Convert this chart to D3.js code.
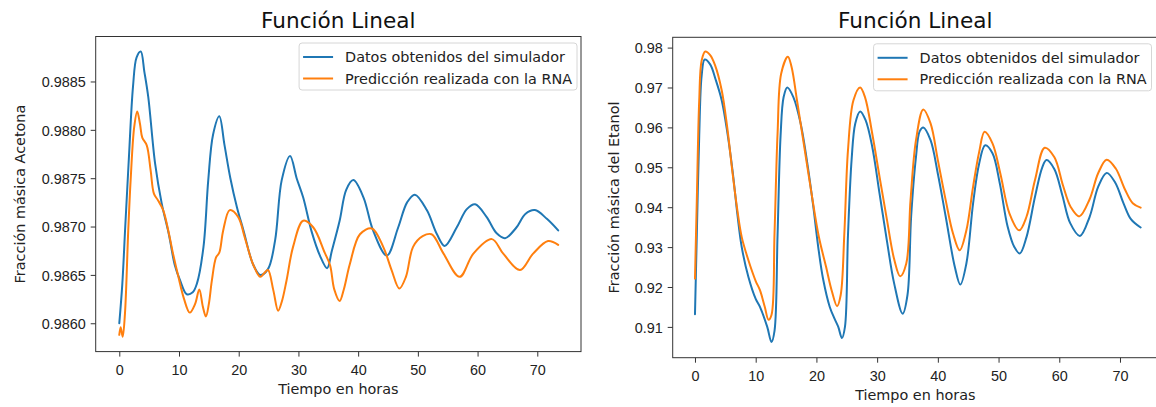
<!DOCTYPE html>
<html lang="es">
<head>
<meta charset="UTF-8">
<title>Función Lineal</title>
<style>
  body { margin: 0; background: #fff; }
  svg { display: block; font-family: "DejaVu Sans", sans-serif; }
  .tick line { stroke: #333; }
  .tick text { fill: #222; font-size: 14.4px; }
  .domain { display: none; }
  .spine { fill: none; stroke: #333; stroke-width: 1; }
  .serie { fill: none; stroke-width: 2; stroke-linejoin: round; stroke-linecap: round; }
</style>
</head>
<body>
<svg width="1156" height="407"></svg>
<script src="https://d3js.org/d3.v7.min.js"></script>
<script>
// ---- data ----
const xTicks = [0, 10, 20, 30, 40, 50, 60, 70];
const acetonaTicks = [0.9860, 0.9865, 0.9870, 0.9875, 0.9880, 0.9885];
const etanolTicks = [0.91, 0.92, 0.93, 0.94, 0.95, 0.96, 0.97, 0.98];
const seriesNames = ["Datos obtenidos del simulador", "Predicción realizada con la RNA"];

// Acetona, simulator
const acetonaSimT = [0, 0.5, 1.0, 1.6, 2.3, 2.9, 3.6, 4.2, 4.85, 6.0, 7.1, 8.3, 9.3, 10.2, 11.3, 12.3, 13.0, 14.1, 14.9, 15.7, 16.75, 17.6, 18.6, 19.7, 20.8, 22.4, 23.6, 24.9, 26.1, 27.2, 28.6, 29.7, 30.8, 32.2, 33.6, 34.8, 35.6, 36.9, 38.0, 39.2, 40.9, 42.5, 44.8, 46.7, 48.2, 49.5, 51.5, 53.2, 54.5, 56.5, 58.2, 59.6, 61.5, 63.2, 64.6, 66.5, 68.0, 69.6, 71.6, 73.5];
const acetonaSimY = [0.98600, 0.98640, 0.98700, 0.98770, 0.98845, 0.98875, 0.98881, 0.98860, 0.98834, 0.98765, 0.98724, 0.98692, 0.98660, 0.98644, 0.98630, 0.98632, 0.98641, 0.98679, 0.98748, 0.98795, 0.98814, 0.98785, 0.98750, 0.98720, 0.98696, 0.98661, 0.98650, 0.98656, 0.98686, 0.98748, 0.98773, 0.98750, 0.98730, 0.98695, 0.98670, 0.98657, 0.98675, 0.98706, 0.98738, 0.98748, 0.98730, 0.98696, 0.98670, 0.98699, 0.98725, 0.98733, 0.98717, 0.98692, 0.98680, 0.98699, 0.98718, 0.98723, 0.98710, 0.98693, 0.98688, 0.98699, 0.98713, 0.98717, 0.98708, 0.98696];

// Acetona, RNA prediction
const acetonaRnaT = [0, 0.23, 0.57, 0.95, 1.5, 1.9, 2.5, 3.0, 3.47, 3.85, 4.6, 5.25, 5.8, 6.5, 7.35, 8.2, 9.0, 9.9, 10.8, 11.8, 12.7, 13.4, 14.0, 14.5, 15.0, 15.5, 16.2, 16.75, 17.4, 18.5, 19.9, 21.0, 22.4, 23.6, 24.3, 24.9, 25.8, 26.6, 27.2, 28.0, 29.1, 30.8, 32.5, 34.4, 35.3, 36.0, 36.9, 37.6, 38.6, 40.3, 42.3, 44.2, 45.6, 46.9, 48.0, 49.2, 50.8, 52.3, 54.3, 57.0, 59.3, 62.4, 64.3, 67.1, 69.3, 71.8, 73.5];
const acetonaRnaY = [0.98588, 0.98596, 0.98586, 0.98610, 0.98696, 0.98748, 0.98803, 0.98819, 0.98806, 0.98792, 0.98784, 0.98758, 0.98734, 0.98727, 0.98717, 0.98696, 0.98672, 0.98648, 0.98626, 0.98611, 0.98620, 0.98635, 0.98617, 0.98607, 0.98620, 0.98644, 0.98668, 0.98673, 0.98696, 0.98717, 0.98710, 0.98689, 0.98661, 0.98648, 0.98652, 0.98655, 0.98634, 0.98613, 0.98622, 0.98644, 0.98679, 0.98706, 0.98699, 0.98673, 0.98660, 0.98635, 0.98623, 0.98635, 0.98661, 0.98692, 0.98698, 0.98679, 0.98655, 0.98636, 0.98648, 0.98679, 0.98690, 0.98692, 0.98672, 0.98648, 0.98672, 0.98687, 0.98672, 0.98655, 0.98672, 0.98685, 0.98681];

// Etanol, simulator
const etanolSimT = [0, 0.3, 0.7, 1.1, 1.6, 2.5, 3.4, 4.4, 5.3, 6.2, 7.0, 7.7, 8.8, 10.0, 10.7, 11.9, 12.6, 13.1, 13.6, 14.1, 14.6, 15.2, 16.2, 17.4, 18.6, 19.5, 20.3, 21.1, 22.2, 23.0, 23.6, 24.2, 24.7, 25.2, 25.8, 26.4, 27.2, 28.1, 29.2, 30.4, 31.6, 32.8, 34.2, 35.0, 35.6, 36.4, 37.0, 37.6, 38.8, 40.0, 41.3, 42.8, 43.7, 44.7, 45.8, 46.8, 47.8, 49.0, 50.2, 51.5, 52.6, 53.5, 54.6, 56.0, 57.2, 57.9, 59.2, 60.5, 61.8, 63.4, 65.0, 66.4, 67.8, 69.2, 70.6, 71.8, 73.4];
const etanolSimY = [0.9132, 0.9330, 0.9580, 0.9730, 0.9770, 0.9758, 0.9720, 0.9668, 0.9590, 0.9490, 0.9380, 0.9300, 0.9225, 0.9170, 0.9150, 0.9100, 0.9062, 0.9090, 0.9330, 0.9580, 0.9676, 0.9700, 0.9676, 0.9610, 0.9500, 0.9400, 0.9300, 0.9220, 0.9150, 0.9120, 0.9100, 0.9072, 0.9100, 0.9330, 0.9520, 0.9610, 0.9640, 0.9618, 0.9551, 0.9434, 0.9317, 0.9209, 0.9133, 0.9180, 0.9376, 0.9526, 0.9590, 0.9600, 0.9568, 0.9484, 0.9376, 0.9250, 0.9206, 0.9259, 0.9409, 0.9509, 0.9555, 0.9535, 0.9460, 0.9351, 0.9300, 0.9284, 0.9325, 0.9426, 0.9500, 0.9518, 0.9495, 0.9430, 0.9360, 0.9328, 0.9376, 0.9451, 0.9486, 0.9462, 0.9409, 0.9370, 0.9349];

// Etanol, RNA prediction
const etanolRnaT = [0, 0.3, 0.7, 1.1, 1.7, 2.5, 3.3, 4.4, 5.3, 6.2, 7.0, 7.7, 8.8, 10.0, 10.7, 11.5, 12.1, 12.6, 13.1, 13.6, 14.2, 15.3, 15.9, 16.8, 18.0, 19.2, 20.4, 21.6, 22.5, 23.4, 24.0, 24.6, 25.2, 26.1, 27.2, 28.0, 29.2, 30.4, 31.6, 32.8, 33.8, 34.8, 35.5, 36.4, 37.6, 38.8, 40.0, 41.3, 42.5, 43.6, 44.7, 45.8, 46.8, 47.7, 49.0, 50.3, 51.8, 53.4, 54.6, 56.0, 57.6, 59.2, 60.6, 61.9, 63.3, 65.0, 66.4, 67.8, 69.3, 70.8, 72.1, 73.4];
const etanolRnaY = [0.9221, 0.9417, 0.9668, 0.9768, 0.9790, 0.9781, 0.9756, 0.9693, 0.9601, 0.9484, 0.9390, 0.9325, 0.9267, 0.9215, 0.9192, 0.9150, 0.9118, 0.9130, 0.9334, 0.9584, 0.9735, 0.9777, 0.9752, 0.9668, 0.9551, 0.9434, 0.9326, 0.9250, 0.9192, 0.9152, 0.9180, 0.9334, 0.9543, 0.9668, 0.9700, 0.9676, 0.9584, 0.9476, 0.9370, 0.9270, 0.9227, 0.9259, 0.9417, 0.9568, 0.9645, 0.9610, 0.9518, 0.9417, 0.9334, 0.9292, 0.9342, 0.9451, 0.9538, 0.9589, 0.9560, 0.9484, 0.9384, 0.9342, 0.9376, 0.9468, 0.9549, 0.9525, 0.9455, 0.9400, 0.9377, 0.9420, 0.9485, 0.9519, 0.9497, 0.9445, 0.9410, 0.9399];

const colors = ["#1f77b4", "#ff7f0e"];

const svg = d3.select("svg");

const panels = [
  {
    box: { l: 95.7, r: 581, t: 36.5, b: 351.6 },
    xDomain: [-3.95, 77.32],
    yDomain: [0.985707, 0.988965],
    yTicks: acetonaTicks, yFmt: d3.format(".4f"),
    ylabel: "Fracción másica Acetona", ylabelDx: 70.3,
    series: [[acetonaSimT, acetonaSimY], [acetonaRnaT, acetonaRnaY]],
    legendRight: 577
  },
  {
    box: { l: 672.7, r: 1158, t: 37.3, b: 357.7 },
    xDomain: [-3.67, 76.26],
    yDomain: [0.90228, 0.98258],
    yTicks: etanolTicks, yFmt: d3.format(".2f"),
    ylabel: "Fracción másica del Etanol", ylabelDx: 53.7,
    series: [[etanolSimT, etanolSimY], [etanolRnaT, etanolRnaY]],
    legendRight: 1151.5
  }
];

panels.forEach(p => {
  const { l, r, t, b } = p.box;
  const x = d3.scaleLinear().domain(p.xDomain).range([l, r]);
  const y = d3.scaleLinear().domain(p.yDomain).range([b, t]);
  const g = svg.append("g");

  // lines
  const line = d3.line()
    .x(d => x(d[0]))
    .y(d => y(d[1]))
    .curve(d3.curveCatmullRom.alpha(0.5));

  g.append("defs").append("clipPath").attr("id", "clip" + l)
    .append("rect").attr("x", l).attr("y", t).attr("width", r - l).attr("height", b - t);

  p.series.forEach((s, i) => {
    const pts = s[0].map((tv, k) => [tv, s[1][k]]);
    g.append("path")
      .attr("class", "serie")
      .attr("clip-path", `url(#clip${l})`)
      .attr("stroke", colors[i])
      .attr("d", line(pts));
  });

  // axes
  g.append("g")
    .attr("transform", `translate(0,${b})`)
    .call(d3.axisBottom(x).tickValues(xTicks).tickSize(5).tickPadding(5))
    .call(a => a.selectAll("text").attr("dy", "0.91em"));

  g.append("g")
    .attr("transform", `translate(${l},0)`)
    .call(d3.axisLeft(y).tickValues(p.yTicks).tickFormat(p.yFmt).tickSize(5).tickPadding(5))
    .call(a => a.selectAll("text").attr("dy", "0.36em"));

  g.append("rect").attr("class", "spine")
    .attr("x", l).attr("y", t).attr("width", r - l).attr("height", b - t);

  // title and labels
  const cx = (l + r) / 2;
  g.append("text")
    .attr("x", cx).attr("y", 28)
    .attr("text-anchor", "middle")
    .attr("font-size", "21.6px").attr("fill", "#111")
    .text("Función Lineal");

  g.append("text")
    .attr("x", cx).attr("y", b + 42.5)
    .attr("text-anchor", "middle")
    .attr("font-size", "14.4px").attr("fill", "#222")
    .text("Tiempo en horas");

  g.append("text")
    .attr("transform", `translate(${l - p.ylabelDx},${(t + b) / 2}) rotate(-90)`)
    .attr("text-anchor", "middle")
    .attr("font-size", "14.4px").attr("fill", "#222")
    .text(p.ylabel);

  // legend
  const lg = g.append("g");
  const box = lg.append("rect")
    .attr("fill", "#fff").attr("fill-opacity", 0.8)
    .attr("stroke", "#d6d6d6").attr("rx", 3);
  let maxW = 0;
  const texts = seriesNames.map((name, i) => {
    const tx = lg.append("text")
      .attr("font-size", "14.4px").attr("fill", "#222")
      .attr("dy", "0.36em")
      .text(name);
    maxW = Math.max(maxW, tx.node().getComputedTextLength());
    return tx;
  });
  const boxW = 46 + maxW + 5;
  const bx = p.legendRight - boxW, by = t + 6.5;
  box.attr("x", bx).attr("y", by).attr("width", boxW).attr("height", 47);
  seriesNames.forEach((name, i) => {
    const ry = by + 14 + i * 21.5;
    lg.append("line")
      .attr("x1", bx + 4).attr("x2", bx + 34)
      .attr("y1", ry).attr("y2", ry)
      .attr("stroke", colors[i]).attr("stroke-width", 2);
    texts[i].attr("x", bx + 46).attr("y", ry);
  });
});
</script>
</body>
</html>
